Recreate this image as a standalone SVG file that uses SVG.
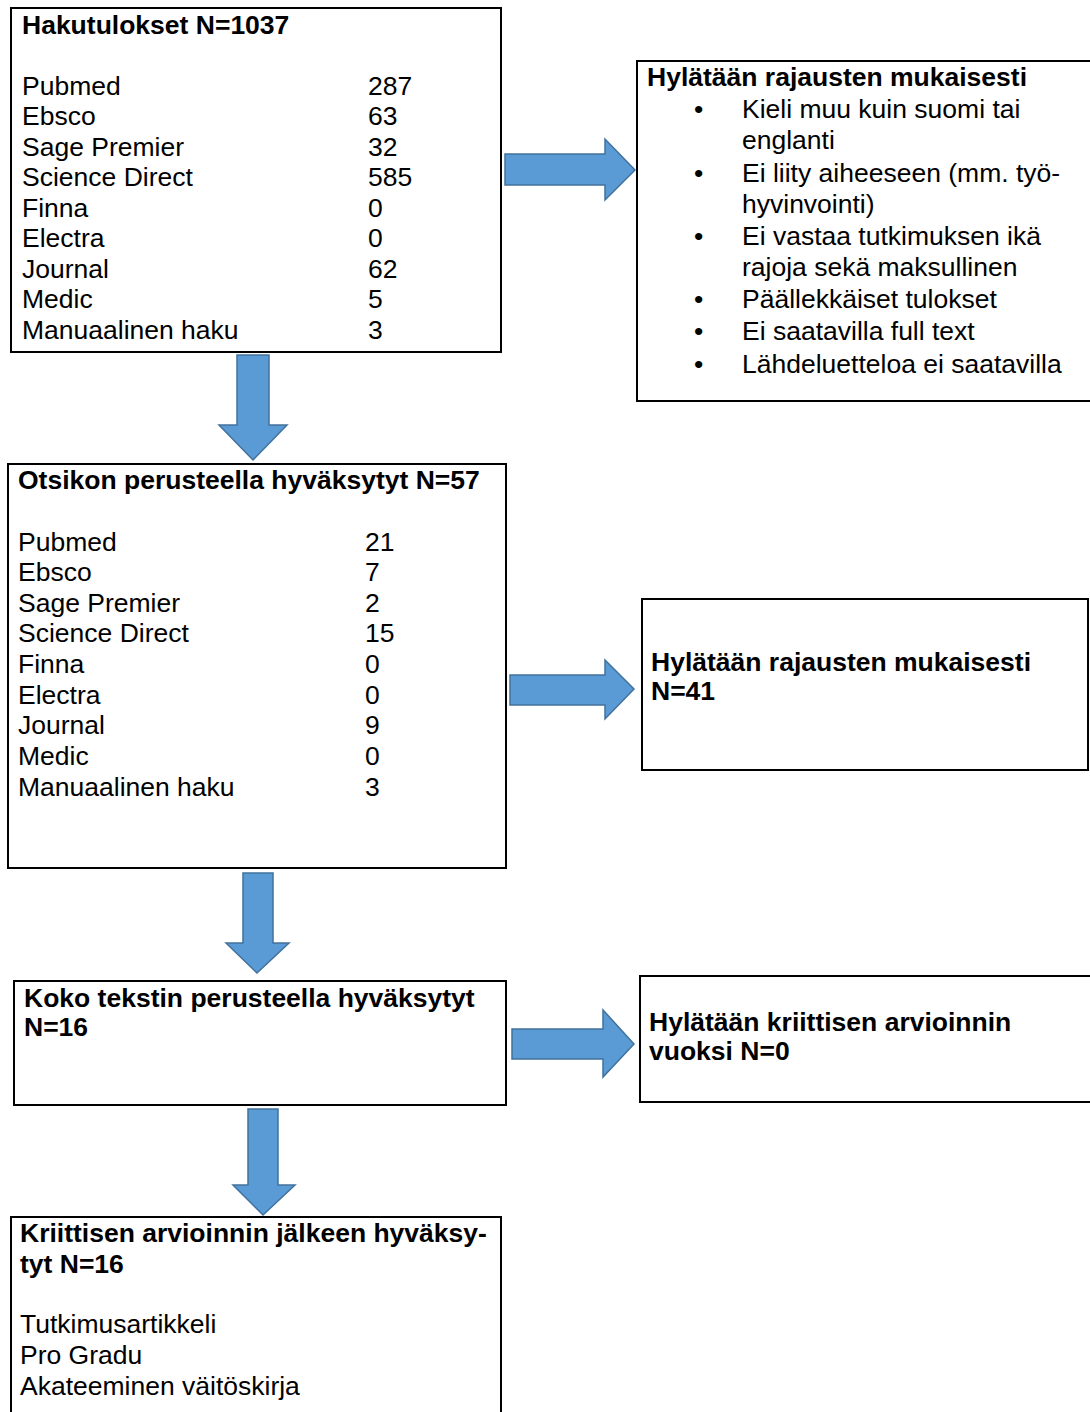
<svg xmlns="http://www.w3.org/2000/svg" width="1090" height="1412" viewBox="0 0 1090 1412">
<style>
.box{fill:#fff;stroke:#000;stroke-width:2}
.t{font-family:"Liberation Sans",Arial,sans-serif;font-size:26.5px;fill:#000}
.b{font-weight:bold}
.arr{fill:#5B9BD5;stroke:#41719C;stroke-width:1.5;stroke-linejoin:miter}
</style>
<rect width="1090" height="1412" fill="#fff"/>
<g id="connectors">
<polygon class="arr" points="505,154 605,154 605,139 635,170 605,200 605,185 505,185"/>
<polygon class="arr" points="237,355 269,355 269,425 287,425 253,460 219,425 237,425"/>
<polygon class="arr" points="510,675 605,675 605,660 634,689 605,719 605,705 510,705"/>
<polygon class="arr" points="243,873 273,873 273,943 289,943 257,973 226,943 243,943"/>
<polygon class="arr" points="512,1029 603,1029 603,1010 634,1044 603,1077 603,1059 512,1059"/>
<polygon class="arr" points="248,1109 278,1109 278,1185 295,1185 263,1215 233,1185 248,1185"/>
</g>
<g id="node1">
<rect class="box" x="11" y="8" width="490" height="344"/>
<text class="t b" x="22" y="34">Hakutulokset N=1037</text>
<text class="t" x="22" y="95">Pubmed</text><text class="t" x="368" y="95">287</text>
<text class="t" x="22" y="125">Ebsco</text><text class="t" x="368" y="125">63</text>
<text class="t" x="22" y="156">Sage Premier</text><text class="t" x="368" y="156">32</text>
<text class="t" x="22" y="186">Science Direct</text><text class="t" x="368" y="186">585</text>
<text class="t" x="22" y="217">Finna</text><text class="t" x="368" y="217">0</text>
<text class="t" x="22" y="247">Electra</text><text class="t" x="368" y="247">0</text>
<text class="t" x="22" y="278">Journal</text><text class="t" x="368" y="278">62</text>
<text class="t" x="22" y="308">Medic</text><text class="t" x="368" y="308">5</text>
<text class="t" x="22" y="339">Manuaalinen haku</text><text class="t" x="368" y="339">3</text>
</g>
<g id="node2">
<rect class="box" x="637" y="61" width="460" height="340"/>
<text class="t b" x="647" y="86">Hylätään rajausten mukaisesti</text>
<text class="t" x="694" y="118">•</text><text class="t" x="742" y="118">Kieli muu kuin suomi tai</text>
<text class="t" x="742" y="149">englanti</text>
<text class="t" x="694" y="182">•</text><text class="t" x="742" y="182">Ei liity aiheeseen (mm. työ-</text>
<text class="t" x="742" y="213">hyvinvointi)</text>
<text class="t" x="694" y="245">•</text><text class="t" x="742" y="245">Ei vastaa tutkimuksen ikä</text>
<text class="t" x="742" y="276">rajoja sekä maksullinen</text>
<text class="t" x="694" y="308">•</text><text class="t" x="742" y="308">Päällekkäiset tulokset</text>
<text class="t" x="694" y="340">•</text><text class="t" x="742" y="340">Ei saatavilla full text</text>
<text class="t" x="694" y="373">•</text><text class="t" x="742" y="373">Lähdeluetteloa ei saatavilla</text>
</g>
<g id="node3">
<rect class="box" x="8" y="464" width="498" height="404"/>
<text class="t b" x="18" y="489">Otsikon perusteella hyväksytyt N=57</text>
<text class="t" x="18" y="551">Pubmed</text><text class="t" x="365" y="551">21</text>
<text class="t" x="18" y="581">Ebsco</text><text class="t" x="365" y="581">7</text>
<text class="t" x="18" y="612">Sage Premier</text><text class="t" x="365" y="612">2</text>
<text class="t" x="18" y="642">Science Direct</text><text class="t" x="365" y="642">15</text>
<text class="t" x="18" y="673">Finna</text><text class="t" x="365" y="673">0</text>
<text class="t" x="18" y="704">Electra</text><text class="t" x="365" y="704">0</text>
<text class="t" x="18" y="734">Journal</text><text class="t" x="365" y="734">9</text>
<text class="t" x="18" y="765">Medic</text><text class="t" x="365" y="765">0</text>
<text class="t" x="18" y="796">Manuaalinen haku</text><text class="t" x="365" y="796">3</text>
</g>
<g id="node4">
<rect class="box" x="642" y="599" width="446" height="171"/>
<text class="t b" x="651" y="671">Hylätään rajausten mukaisesti</text>
<text class="t b" x="651" y="700">N=41</text>
</g>
<g id="node5">
<rect class="box" x="14" y="981" width="492" height="124"/>
<text class="t b" x="24" y="1007">Koko tekstin perusteella hyväksytyt</text>
<text class="t b" x="24" y="1036">N=16</text>
</g>
<g id="node6">
<rect class="box" x="640" y="976" width="460" height="126"/>
<text class="t b" x="649" y="1031">Hylätään kriittisen arvioinnin</text>
<text class="t b" x="649" y="1060">vuoksi N=0</text>
</g>
<g id="node7">
<rect class="box" x="11" y="1217" width="490" height="210"/>
<text class="t b" x="20" y="1242">Kriittisen arvioinnin jälkeen hyväksy-</text>
<text class="t b" x="20" y="1273">tyt N=16</text>
<text class="t" x="20" y="1333">Tutkimusartikkeli</text>
<text class="t" x="20" y="1364">Pro Gradu</text>
<text class="t" x="20" y="1395">Akateeminen väitöskirja</text>
</g>
</svg>
